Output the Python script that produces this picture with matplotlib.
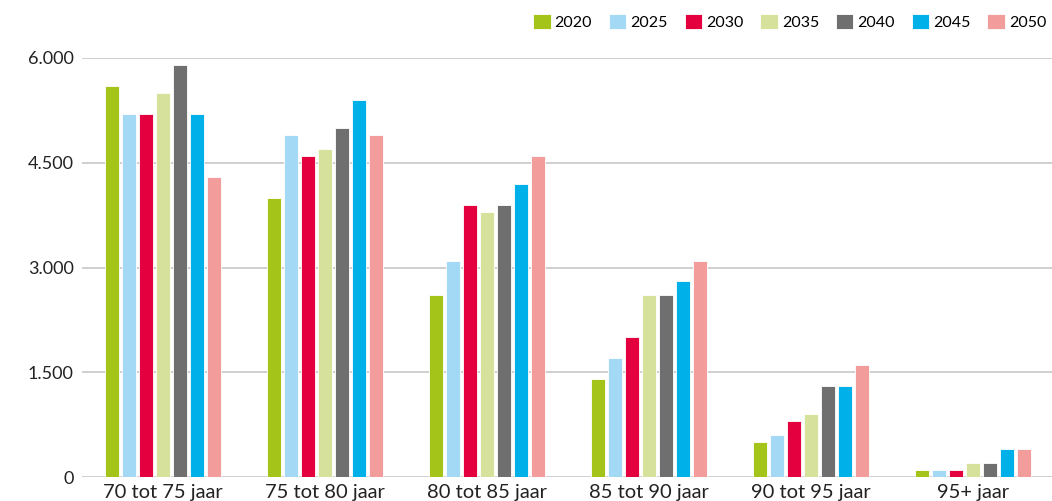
import numpy as np
import matplotlib
matplotlib.use("Agg")
import matplotlib.pyplot as plt

plt.rcParams['font.family'] = ['Lato', 'DejaVu Sans']

# leeftijdsgroepen en prognose per jaar
groepen = ['70 tot 75 jaar', '75 tot 80 jaar', '80 tot 85 jaar',
           '85 tot 90 jaar', '90 tot 95 jaar', '95+ jaar']
jaren = ['2020', '2025', '2030', '2035', '2040', '2045', '2050']
kleuren = ['#a4c41a', '#a3d9f5', '#e4003f', '#d6e29c', '#6f6f6f', '#00b0e8', '#f39c9c']

w2020 = [5600, 4000, 2600, 1400, 500, 100]
w2025 = [5200, 4900, 3100, 1700, 600, 100]
w2030 = [5200, 4600, 3900, 2000, 800, 100]
w2035 = [5500, 4700, 3800, 2600, 900, 200]
w2040 = [5900, 5000, 3900, 2600, 1300, 200]
w2045 = [5200, 5400, 4200, 2800, 1300, 400]
w2050 = [4300, 4900, 4600, 3100, 1600, 400]
reeksen = [w2020, w2025, w2030, w2035, w2040, w2045, w2050]

fig = plt.figure(figsize=(10.52, 5.01), dpi=100)
ax = fig.add_axes([82 / 1052, 1 - 477 / 501, 972 / 1052, 419 / 501])

x = np.arange(len(groepen))
stap = 0.105
breedte = 0.09
for i, (jaar, vals, kl) in enumerate(zip(jaren, reeksen, kleuren)):
    ax.bar(x + (i - 3) * stap, vals, width=breedte, color=kl,
           edgecolor='white', linewidth=0.6, label=jaar, zorder=3)

ax.set_xlim(-0.5, 5.5)
ax.set_ylim(0, 6000)
ax.set_yticks([0, 1500, 3000, 4500, 6000])
ax.set_yticklabels(['0', '1.500', '3.000', '4.500', '6.000'])
ax.set_xticks(x)
ax.set_xticklabels(groepen, fontsize=14.5)
ax.tick_params(axis='both', length=0, colors='#222222')
ax.tick_params(axis='y', pad=6, labelsize=13)
ax.tick_params(axis='x', pad=5)
ax.grid(axis='y', color='#cccccc', linewidth=1.3, zorder=0)
for s in ax.spines.values():
    s.set_visible(False)

fig.legend(loc='center left', bbox_to_anchor=(533 / 1052, 1 - 22 / 501), ncol=7,
           frameon=False, fontsize=11.5, handlelength=1.1, handleheight=1.1,
           handletextpad=0.25, columnspacing=1.05, borderaxespad=0, borderpad=0)

fig.savefig('out.png', dpi=100)
